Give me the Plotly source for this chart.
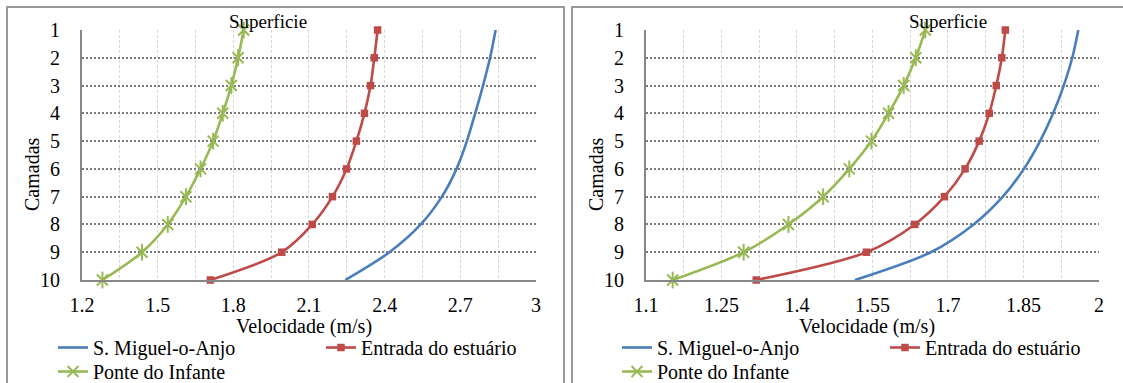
import plotly.graph_objects as go

# Layer index (1 = surface, 10 = bottom)
camadas = [1, 2, 3, 4, 5, 6, 7, 8, 9, 10]

# Left panel velocities (m/s)
sma_a = [2.840, 2.818, 2.790, 2.759, 2.726, 2.685, 2.627, 2.543, 2.419, 2.244]
ent_a = [2.372, 2.359, 2.344, 2.320, 2.288, 2.249, 2.193, 2.113, 1.992, 1.709]
pif_a = [1.841, 1.819, 1.792, 1.758, 1.720, 1.670, 1.612, 1.540, 1.438, 1.281]

# Right panel velocities (m/s)
sma_b = [1.959, 1.947, 1.930, 1.909, 1.883, 1.851, 1.809, 1.751, 1.666, 1.515]
ent_b = [1.814, 1.807, 1.796, 1.782, 1.762, 1.734, 1.693, 1.634, 1.538, 1.319]
pif_b = [1.655, 1.636, 1.612, 1.582, 1.548, 1.504, 1.452, 1.383, 1.294, 1.153]

names = ["S. Miguel-o-Anjo", "Entrada do estuário", "Ponte do Infante"]
x_ticks_a = [1.2, 1.5, 1.8, 2.1, 2.4, 2.7, 3.0]
x_ticks_b = [1.1, 1.25, 1.4, 1.55, 1.7, 1.85, 2.0]

BLUE = "#4a7ebb"
RED = "#be4b48"
GREEN = "#98b954"
FONT = "Liberation Serif, Times New Roman, DejaVu Serif, serif"
FS = 20
W, H = 1123, 383


def px(x):
    return x / W


def py(y):
    return (H - y) / H


fig = go.Figure()


def add_panel(xa, ya, sma, ent, pif, legs):
    fig.add_trace(go.Scatter(
        x=sma, y=camadas, name=names[0], mode="lines",
        line=dict(color=BLUE, width=2.6, shape="spline", smoothing=0.9),
        xaxis=xa, yaxis=ya, legend=legs[0], cliponaxis=False))
    fig.add_trace(go.Scatter(
        x=ent, y=camadas, name=names[1], mode="lines+markers",
        line=dict(color=RED, width=2.6, shape="spline", smoothing=0.9),
        marker=dict(symbol="square", size=7.5, color=RED),
        xaxis=xa, yaxis=ya, legend=legs[1], cliponaxis=False))
    fig.add_trace(go.Scatter(
        x=pif, y=camadas, name=names[2], mode="lines+markers",
        line=dict(color=GREEN, width=2.6, shape="spline", smoothing=0.9),
        marker=dict(symbol="x-thin-open", size=11, color=GREEN,
                    line=dict(color=GREEN, width=2)),
        xaxis=xa, yaxis=ya, legend=legs[2], cliponaxis=False))
    # vertical stroke completing the star markers
    fig.add_trace(go.Scatter(
        x=pif, y=camadas, mode="markers", showlegend=False, hoverinfo="skip",
        marker=dict(symbol="line-ns-open", size=12, color=GREEN,
                    line=dict(color=GREEN, width=2)),
        xaxis=xa, yaxis=ya, cliponaxis=False))


add_panel("x", "y", sma_a, ent_a, pif_a, ["legend", "legend2", "legend3"])
add_panel("x2", "y2", sma_b, ent_b, pif_b, ["legend4", "legend5", "legend6"])

tickfont = dict(family=FONT, size=FS, color="black")
ydom = [py(280), py(30)]

xcommon = dict(
    showline=True, linecolor="#878787", linewidth=2, ticks="",
    showgrid=True, gridcolor="#d6d6d6", gridwidth=1, griddash="3px,2px",
    zeroline=False, tickfont=tickfont, ticklabelstandoff=6, automargin=False,
)
ycommon = dict(
    range=[10, 1], tickvals=camadas, showline=True, linecolor="#878787",
    linewidth=2, ticks="", showgrid=True, gridcolor="#7a7a7a", gridwidth=1.5,
    griddash="2px,2px", zeroline=False, tickfont=tickfont,
    ticklabelstandoff=16, domain=ydom, automargin=False,
)

fig.update_layout(
    xaxis=dict(xcommon, domain=[px(82), px(536)], range=[1.2, 3.0001],
               tickvals=x_ticks_a, ticktext=["1.2", "1.5", "1.8", "2.1", "2.4", "2.7", "3"],
               minor=dict(dtick=0.15, tick0=1.2, showgrid=True, gridcolor="#d6d6d6",
                          griddash="3px,2px", gridwidth=1),
               anchor="y"),
    yaxis=dict(ycommon, anchor="x"),
    xaxis2=dict(xcommon, domain=[px(646), px(1099)], range=[1.1, 2.0001],
                tickvals=x_ticks_b, ticktext=["1.1", "1.25", "1.4", "1.55", "1.7", "1.85", "2"],
                minor=dict(dtick=0.075, tick0=1.1, showgrid=True, gridcolor="#d6d6d6",
                           griddash="3px,2px", gridwidth=1),
                anchor="y2"),
    yaxis2=dict(ycommon, anchor="x2"),
)

# Legends: one entry each, placed under the panels
legfont = dict(family=FONT, size=FS, color="black")
leg_pos = {
    "legend": (53, 328), "legend2": (321, 328), "legend3": (53, 352),
    "legend4": (617, 328), "legend5": (885, 328), "legend6": (617, 352),
}
for key, (lx, ly) in leg_pos.items():
    fig.layout[key] = dict(x=px(lx), y=py(ly), xanchor="left", yanchor="top",
                           font=legfont, bgcolor="rgba(0,0,0,0)", borderwidth=0,
                           orientation="h")

ann = []
for cx in (267.5, 948):
    ann.append(dict(text="Superficie", x=px(cx), y=py(21), xref="paper", yref="paper",
                    xanchor="center", yanchor="middle", showarrow=False,
                    font=dict(family=FONT, size=19, color="black")))
for cx in (32, 596):
    ann.append(dict(text="Camadas", x=px(cx), y=py(174), xref="paper", yref="paper",
                    xanchor="center", yanchor="middle", textangle=-90,
                    showarrow=False, font=dict(family=FONT, size=FS, color="black")))
for cx in (304, 867):
    ann.append(dict(text="Velocidade (m/s)", x=px(cx), y=py(326), xref="paper",
                    yref="paper", xanchor="center", yanchor="middle", showarrow=False,
                    font=dict(family=FONT, size=FS, color="black")))

shapes = [
    dict(type="rect", xref="paper", yref="paper", x0=px(7), x1=px(564),
         y0=-0.1, y1=py(7), line=dict(color="#999999", width=2), layer="below"),
    dict(type="rect", xref="paper", yref="paper", x0=px(572), x1=1.05,
         y0=-0.1, y1=py(7), line=dict(color="#999999", width=2), layer="below"),
]

fig.update_layout(
    width=W, height=H, margin=dict(l=0, r=0, t=0, b=0, autoexpand=False),
    paper_bgcolor="white", plot_bgcolor="white",
    annotations=ann, shapes=shapes, showlegend=True,
)

fig.write_html("out.html")
